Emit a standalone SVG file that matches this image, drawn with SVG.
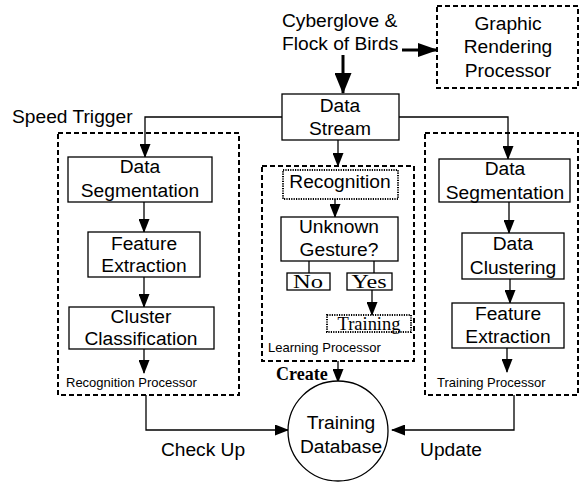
<svg xmlns="http://www.w3.org/2000/svg" width="580" height="483" viewBox="0 0 580 483">
<style>
text{font-family:"Liberation Sans",Arial,sans-serif;fill:#000}
.t{font-size:19.2px;text-anchor:middle}
.s{font-size:13px}
.serif{font-family:"Liberation Serif","Times New Roman",serif;font-size:19px;text-anchor:middle}
.box{fill:#fff;stroke:#000;stroke-width:1.3}
.dash{fill:none;stroke:#000;stroke-width:2;stroke-dasharray:5,3}
.dot{fill:#fff;stroke:#000;stroke-width:2;stroke-dasharray:1.2,1.2}
.c{fill:none;stroke:#000;stroke-width:1.3}
.thick{fill:none;stroke:#000;stroke-width:3}
</style>
<defs>
<marker id="a" viewBox="0 0 14 11" refX="13" refY="5.5" markerWidth="14" markerHeight="11" markerUnits="userSpaceOnUse" orient="auto"><path d="M0,0L14,5.5L0,11z" fill="#000"/></marker>
<marker id="b" viewBox="0 0 21 17" refX="20" refY="8.5" markerWidth="21" markerHeight="17" markerUnits="userSpaceOnUse" orient="auto"><path d="M0,0L21,8.5L0,17z" fill="#000"/></marker>
<marker id="b2" viewBox="0 0 20 14" refX="19" refY="7" markerWidth="20" markerHeight="14" markerUnits="userSpaceOnUse" orient="auto"><path d="M0,0L20,7L0,14z" fill="#000"/></marker>
</defs>

<g id="containers">
<rect class="dash" x="58" y="133" width="181" height="262"/>
<rect class="dash" x="262" y="166" width="152" height="195"/>
<rect class="dash" x="425" y="133" width="153" height="262"/>
</g>

<g id="connectors">
<path class="thick" d="M343,55V93" marker-end="url(#b)"/>
<path class="thick" d="M402,50H437" marker-end="url(#b2)"/>
<path class="c" d="M282,117H145V157" marker-end="url(#a)"/>
<path class="c" d="M399,117H508V159" marker-end="url(#a)"/>
<path class="c" d="M338,140V166" marker-end="url(#a)"/>
<path class="c" d="M144,202V232" marker-end="url(#a)"/>
<path class="c" d="M144,277V307" marker-end="url(#a)"/>
<path class="c" d="M144,349V373" marker-end="url(#a)"/>
<path class="c" d="M335,199V217" marker-end="url(#a)"/>
<path class="c" d="M309,261V273"/>
<path class="c" d="M374,261V273"/>
<path class="c" d="M372,290V315" marker-end="url(#a)"/>
<path class="c" d="M509,202V233" marker-end="url(#a)"/>
<path class="c" d="M510,279V303" marker-end="url(#a)"/>
<path class="c" d="M507,348V372" marker-end="url(#a)"/>
<path class="c" d="M338,361V382" marker-end="url(#a)"/>
<path class="c" d="M146,395V430H288" marker-end="url(#a)"/>
<path class="c" d="M514,395V430H392" marker-end="url(#a)"/>
</g>

<g id="source">
<text class="t" style="text-anchor:start" x="282" y="27">Cyberglove &amp;</text>
<text class="t" style="text-anchor:start" x="282" y="50">Flock of Birds</text>
</g>

<g id="graphic-rendering">
<rect class="dash" x="437" y="6" width="141" height="82"/>
<text class="t" x="508" y="30">Graphic</text>
<text class="t" x="508" y="53">Rendering</text>
<text class="t" x="508" y="77">Processor</text>
</g>

<g id="data-stream">
<rect class="box" x="282" y="94" width="117" height="46"/>
<text class="t" x="340" y="112">Data</text>
<text class="t" x="340" y="135">Stream</text>
</g>

<g id="speed-trigger">
<text class="t" style="text-anchor:start" x="12" y="123">Speed Trigger</text>
</g>

<g id="rec-seg">
<rect class="box" x="68" y="157" width="144" height="45"/>
<text class="t" x="140" y="173">Data</text>
<text class="t" x="140" y="197">Segmentation</text>
</g>
<g id="rec-feat">
<rect class="box" x="88" y="232" width="112" height="45"/>
<text class="t" x="144" y="250">Feature</text>
<text class="t" x="144" y="272">Extraction</text>
</g>
<g id="rec-cluster">
<rect class="box" x="69" y="307" width="145" height="42"/>
<text class="t" x="141" y="323">Cluster</text>
<text class="t" x="141" y="345">Classification</text>
</g>
<g id="rec-label"><text class="s" x="66" y="387">Recognition Processor</text></g>

<g id="recognition">
<rect class="dot" x="283" y="170" width="115" height="29"/>
<text class="t" x="340" y="188">Recognition</text>
</g>
<g id="unknown">
<rect class="box" x="281" y="217" width="117" height="44"/>
<text class="t" x="339" y="233">Unknown</text>
<text class="t" x="339" y="256">Gesture?</text>
</g>
<g id="no">
<rect class="box" x="287" y="273" width="43" height="17"/>
<text class="serif" x="308" y="288" textLength="30" lengthAdjust="spacingAndGlyphs">No</text>
</g>
<g id="yes">
<rect class="box" x="347" y="273" width="45" height="17"/>
<text class="serif" x="369" y="288" textLength="35" lengthAdjust="spacingAndGlyphs">Yes</text>
</g>
<g id="training">
<rect class="dot" x="327" y="315" width="84" height="17"/>
<text class="serif" style="font-size:18.5px" x="369" y="330" textLength="63" lengthAdjust="spacingAndGlyphs">Training</text>
</g>
<g id="learn-label"><text class="s" x="268" y="352">Learning Processor</text></g>
<g id="create"><text x="276" y="380" style="font-family:'Liberation Serif','Times New Roman',serif;font-weight:bold;font-size:18px">Create</text></g>

<g id="tr-seg">
<rect class="box" x="439" y="159" width="131" height="43"/>
<text class="t" x="505" y="175">Data</text>
<text class="t" x="505" y="199">Segmentation</text>
</g>
<g id="tr-cluster">
<rect class="box" x="462" y="233" width="102" height="46"/>
<text class="t" x="513" y="250">Data</text>
<text class="t" x="513" y="274">Clustering</text>
</g>
<g id="tr-feat">
<rect class="box" x="452" y="303" width="112" height="45"/>
<text class="t" x="508" y="320">Feature</text>
<text class="t" x="508" y="343">Extraction</text>
</g>
<g id="tr-label"><text class="s" x="437" y="387">Training Processor</text></g>

<g id="database">
<circle class="box" cx="338" cy="431" r="50"/>
<text class="t" x="341" y="429">Training</text>
<text class="t" x="341" y="453">Database</text>
</g>
<g id="check-up"><text class="t" x="203" y="456">Check Up</text></g>
<g id="update"><text class="t" x="451" y="456">Update</text></g>
</svg>
